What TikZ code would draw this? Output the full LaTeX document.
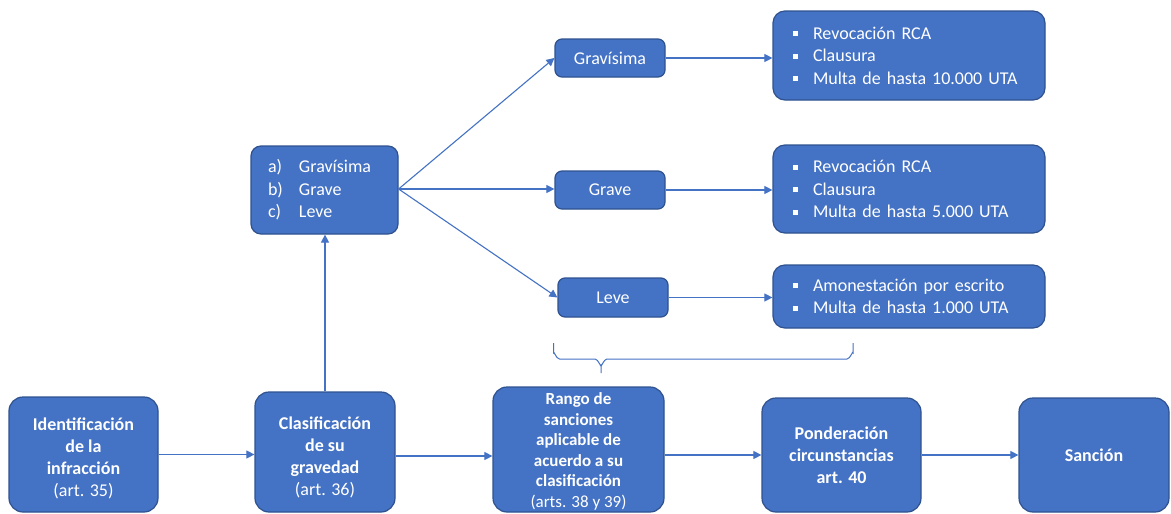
\documentclass[tikz,border=0pt]{standalone}
\usepackage{fontspec}
\setmainfont{Carlito}
\usetikzlibrary{arrows.meta}
\definecolor{boxfill}{HTML}{4472C4}
\definecolor{boxline}{HTML}{2F528F}
\definecolor{conn}{HTML}{4472C4}
\newcommand\bitem[1]{\makebox[20pt][l]{\raisebox{3pt}{\rule{5pt}{5pt}}}#1}
\newcommand\litem[2]{\makebox[31pt][l]{#1}#2}
\newcommand\topstrut[1]{\rule{0pt}{#1}}
\tikzset{
 box/.style={draw=boxline, line width=1.2pt, fill=boxfill, text=white, rounded corners=14pt, align=center, inner sep=0pt, font=\fontsize{18}{22}\selectfont},
 mainbox/.style={box, font=\fontsize{18}{22}\selectfont\bfseries},
 smallbox/.style={box, rounded corners=7pt, minimum width=110pt, minimum height=38pt},
 listbox/.style={box, rounded corners=12pt, align=left, inner sep=0pt, inner xsep=20pt, text width=232pt, font=\fontsize{18}{22.5}\selectfont},
 arr/.style={draw=conn, line width=1.1pt, -{Triangle[length=8pt,width=8pt]}},
 bracestyle/.style={draw=conn, line width=1pt},
 boxlabel/.style={text=white, align=center, inner sep=0pt, font=\fontsize{17}{20.5}\selectfont\bfseries},
}
\begin{document}
\begin{tikzpicture}[x=1pt,y=-1pt]
\useasboundingbox[fill=white] (0,0) rectangle (1171,514);
% bottom row
\node[mainbox, minimum width=149pt, minimum height=115pt] (b1) at (83.5,454.5) {\topstrut{20pt}Identificación\\de la\\infracción\\{\mdseries(art. 35)}};
\node[mainbox, minimum width=140pt, minimum height=120pt] (b2) at (325,452) {\topstrut{23pt}Clasificación\\de su\\gravedad\\{\mdseries(art. 36)}};
\node[mainbox, minimum width=171pt, minimum height=125pt,
  label={[boxlabel, yshift=-2pt]center:{Rango de\\sanciones\\aplicable de\\acuerdo a su\\clasificación\\{\mdseries(arts. 38 y 39)}}}] (b3) at (578.5,449.5) {};
\node[mainbox, minimum width=159pt, minimum height=114pt] (b4) at (841.5,455) {Ponderación\\circunstancias\\art. 40};
\node[mainbox, minimum width=150pt, minimum height=114pt] (b5) at (1094,455) {Sanción};
% classification list
\node[box, rounded corners=10pt, align=left, inner xsep=17pt, text width=113pt, minimum height=88pt, font=\fontsize{18}{22.5}\selectfont] (abc) at (324.5,190) {\litem{a)}{Gravísima}\\\litem{b)}{Grave}\\\litem{c)}{Leve}};
% severity boxes
\node[smallbox] (grav) at (610,58) {Gravísima};
\node[smallbox] (grave) at (610,190) {Grave};
\node[smallbox, minimum height=39pt] (leve) at (613,297.5) {Leve};
% sanction lists
\node[listbox, minimum height=89pt] (sA) at (909,55.5) {\bitem{Revocación RCA}\\\bitem{Clausura}\\\bitem{Multa de hasta 10.000 UTA}};
\node[listbox, minimum height=88pt] (sB) at (909,189) {\bitem{Revocación RCA}\\\bitem{Clausura}\\\bitem{Multa de hasta 5.000 UTA}};
\node[listbox, minimum height=63pt] (sC) at (909,296.5) {\bitem{Amonestación por escrito}\\\bitem{Multa de hasta 1.000 UTA}};
% connectors
\draw[arr] (b1.east) -- (b2.west |- b1.east);
\draw[arr] ([yshift=-4pt]b2.east) -- ([yshift=-4pt]b2.east -| b3.west);
\draw[arr] ([yshift=-5.5pt]b3.east) -- ([yshift=-5.5pt]b3.east -| b4.west);
\draw[arr] (b4.east) -- (b5.west);
\draw[arr] (b2.north) -- (b2.north |- abc.south);
\draw[arr] ([yshift=1pt]abc.east) -- (grav.west);
\draw[arr] ([yshift=1pt]abc.east) -- ([yshift=1pt]abc.east -| grave.west);
\draw[arr] ([yshift=1pt]abc.east) -- (leve.west);
\draw[arr] (grav.east) -- (grav.east -| sA.west);
\draw[arr] (grave.east) -- (grave.east -| sB.west);
\draw[arr] (leve.east) -- (leve.east -| sC.west);
% brace
\coordinate (brL) at (553.5,343);
\coordinate (brT) at (601,373);
\coordinate (brR) at (853,343);
\draw[bracestyle] (brL) -- ++(0,10) to[out=90,in=180] ++(6,6) -- (595,359) to[out=0,in=-90] (601,365) -- (brT);
\draw[bracestyle] (601,365) to[out=-90,in=180] (607,359) -- (847,359) to[out=0,in=90] (853,353) -- (brR);
\end{tikzpicture}
\end{document}
